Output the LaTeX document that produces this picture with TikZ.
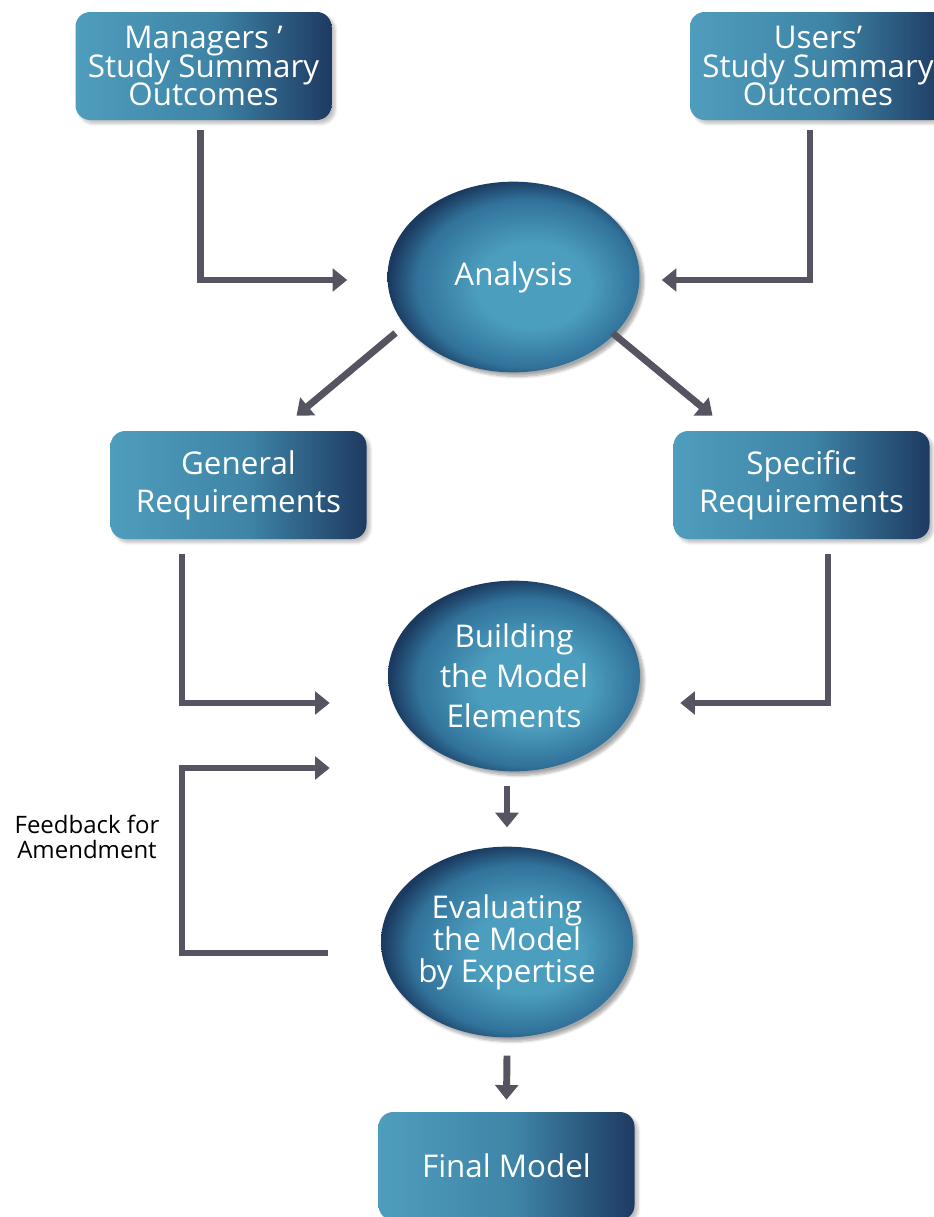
\documentclass[tikz,border=0pt]{standalone}
\usepackage{fontspec}
\setmainfont{Open Sans}
\usetikzlibrary{arrows.meta,calc,shapes.geometric,shadows.blur}
\definecolor{boxL}{HTML}{4F9DBD}
\definecolor{boxM}{HTML}{3E84A6}
\definecolor{boxD}{HTML}{1E3A62}
\definecolor{ballL}{HTML}{4C9EBF}
\definecolor{ballM}{HTML}{31729A}
\definecolor{ballD}{HTML}{1B3A60}
\definecolor{arrowgray}{HTML}{555562}
\pgfdeclarehorizontalshading{boxshade}{100bp}{color(0bp)=(boxL); color(25bp)=(boxL); color(52bp)=(boxM); color(75bp)=(boxD); color(100bp)=(boxD)}
\pgfdeclareradialshading{ballshade}{\pgfpoint{5bp}{-3bp}}{color(0bp)=(ballL); color(11bp)=(ballL); color(22bp)=(ballM); color(27bp)=(ballD); color(50bp)=(ballD)}
\tikzset{
  box/.style={rectangle,rounded corners=11pt,shading=boxshade,minimum width=192pt,minimum height=81pt,
    text=white,align=center,font={\fontsize{23.5}{21.5}\selectfont\lineskiplimit=-20pt},blur shadow={shadow blur steps=6,shadow opacity=25}},
  ball/.style={ellipse,shading=ballshade,minimum width=189pt,minimum height=143pt,inner sep=0pt,
    text=white,align=center,font={\fontsize{23.5}{24}\selectfont\lineskiplimit=-20pt},blur shadow={shadow xshift=3pt,shadow yshift=-3pt,shadow blur steps=8,shadow opacity=35}},
  flow/.style={draw=arrowgray,line width=5.2pt,-{Triangle[length=11pt,width=17pt]}},
  note/.style={align=center,font=\fontsize{18}{19}\selectfont}
}
\begin{document}
\begin{tikzpicture}[x=0.75pt,y=-0.75pt]
\useasboundingbox (0,0) rectangle (934,1217);
\node[box](mgr) at (203.5,66){Managers ’\\Study Summary\\Outcomes};
\node[box](usr) at (818,66){Users’\\Study Summary\\Outcomes};
\node[ball](ana) at (513.5,277){Analysis};
\node[box,font={\fontsize{23.5}{28.5}\selectfont}](gen) at (238.5,485){General\\Requirements};
\node[box,font={\fontsize{23.5}{28.5}\selectfont}](spc) at (801.5,485){Specific\\Requirements};
\node[ball,font={\fontsize{23.5}{30}\selectfont}](bld) at (514,676){Building\\the Model\\Elements};
\node[ball](evl) at (507,942){Evaluating\\the Model\\by Expertise};
\node[box](fin) at (506.5,1166){Final Model};
\coordinate(fb) at (182,860);
\node[note](fbtext) at (87,837){Feedback for\\Amendment};
\draw[flow]($(mgr.south)+(-3,10)$) |- ($(ana.west)+(-40,3)$);
\draw[flow]($(usr.south)+(-8,10)$) |- ($(ana.east)+(22,3)$);
\draw[flow]($(ana.center)+(-118,56)$) -- ($(gen.north)+(58,-15)$);
\draw[flow]($(ana.center)+(99,56)$) -- ($(spc.north)+(-89,-15)$);
\draw[flow]($(gen.south)+(-56.5,15)$) |- ($(bld.west)+(-58,27)$);
\draw[flow]($(spc.south)+(26.5,15)$) |- ($(bld.east)+(40,27)$);
\draw[flow]($(bld.south)+(-7,14)$) -- ($(evl.north)+(0,-19)$);
\draw[flow]($(evl.west)+(-53,11)$) -| (fb) |- ($(bld.west)+(-58,92)$);
\draw[flow]($(evl.south)+(0,18)$) -- ($(fin.north)+(0,-12)$);
\end{tikzpicture}
\end{document}
